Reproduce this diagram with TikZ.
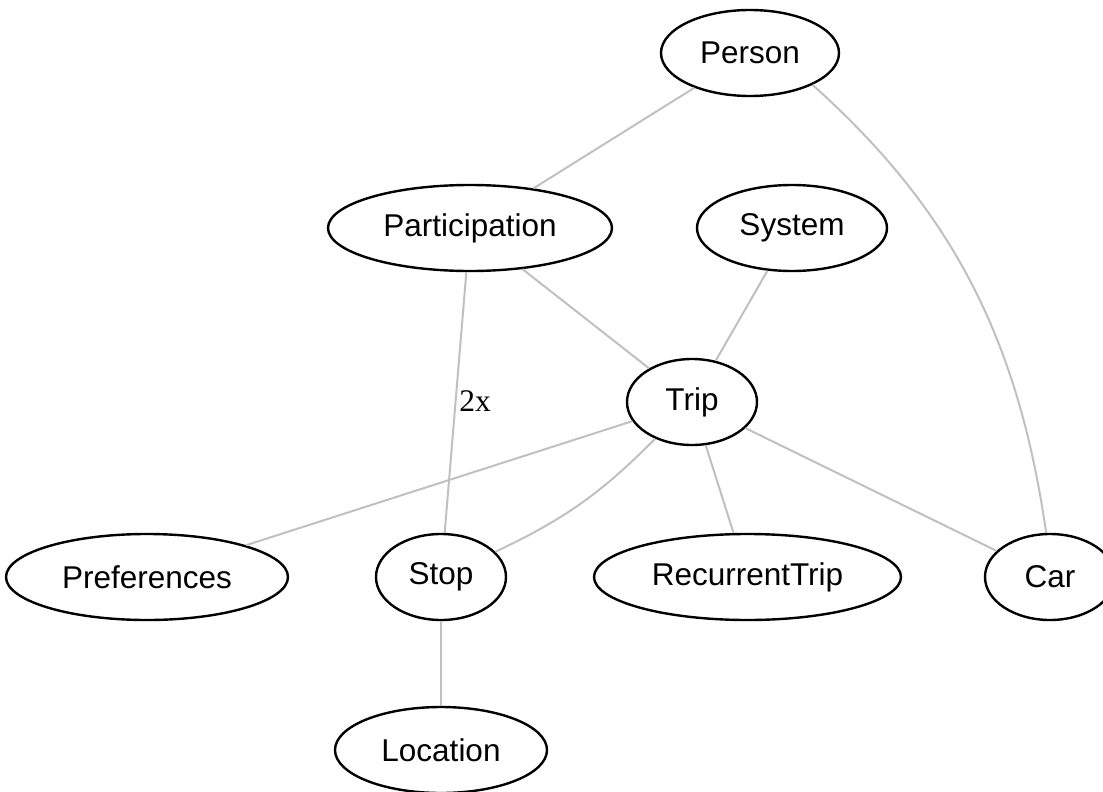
\documentclass[tikz,border=0pt]{standalone}
\usepackage{fontspec}
\setmainfont{Liberation Sans}
\newfontfamily\labelserif{Liberation Serif}
\usetikzlibrary{shapes.geometric}
\definecolor{edgegray}{HTML}{C0C0C0}
\tikzset{
  ent/.style={draw=black, line width=2.4pt, ellipse, minimum height=86pt,
    inner sep=0pt, font=\fontsize{31.5}{36}\selectfont},
  rel/.style={draw=edgegray, line width=2pt},
  edgelabel/.style={font=\labelserif\fontsize{31.5}{36}\selectfont, inner sep=0pt}
}
\begin{document}
\begin{tikzpicture}[x=1pt,y=-1pt]
\useasboundingbox (0,0) rectangle (1103,792);
\clip (0,0) rectangle (1103,792);
\node[ent, minimum width=178pt] (person) at (750,53) {Person};
\node[ent, minimum width=284pt] (part) at (470,228) {Participation};
\node[ent, minimum width=190pt] (system) at (792,228) {System};
\node[ent, minimum width=130pt] (trip) at (692,402) {Trip};
\node[ent, minimum width=282pt] (pref) at (147,577) {Preferences};
\node[ent, minimum width=130pt] (stop) at (441,577) {Stop};
\node[ent, minimum width=307pt] (rtrip) at (747.5,577) {RecurrentTrip};
\node[ent, minimum width=130pt] (car) at (1050,577) {Car};
\node[ent, minimum width=212pt] (loc) at (441,750) {Location};
\node[edgelabel] (lbl) at (475,401) {2x};

\draw[rel] (person) -- (part);
\draw[rel] (person.-27) .. controls (950,208) and (1018,336) .. (car.95);
\draw[rel] (part) -- (trip);
\draw[rel] (part) -- (stop);
\draw[rel] (system) -- (trip);
\draw[rel] (trip) -- (pref);
\draw[rel] (trip) to[bend left=10] (stop);
\draw[rel] (trip) -- (rtrip);
\draw[rel] (trip) -- (car);
\draw[rel] (stop) -- (loc);
\end{tikzpicture}
\end{document}
